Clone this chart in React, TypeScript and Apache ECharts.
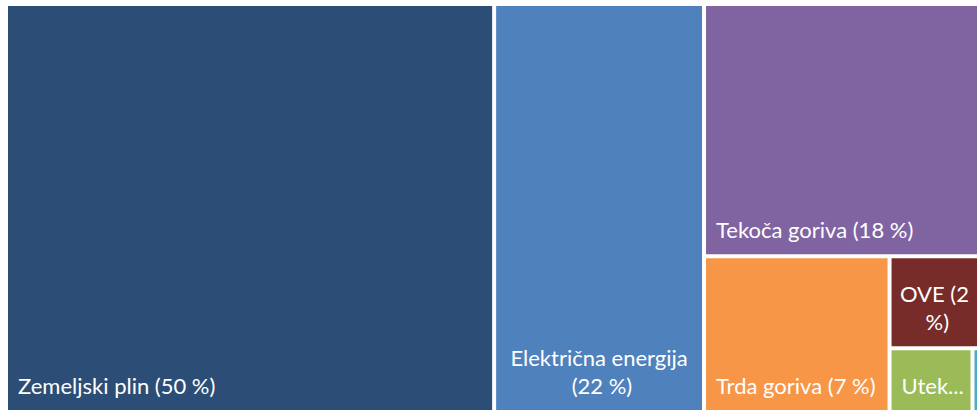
import React, { useEffect, useRef } from "react";
import * as echarts from "echarts";

// Category names and shares (%)
const categories = [
  "Zemeljski plin",
  "Električna energija",
  "Tekoča goriva",
  "Trda goriva",
  "OVE",
  "Utekočinjeni naftni plin",
  "Toplota",
];
const shares = [50, 21.5, 17.8, 7.25, 2.2, 1.33, 0.2];
const palette = ["#2C4D75", "#4F81BD", "#8064A2", "#F79646", "#772C2A", "#9BBB59", "#4BACC6"];

const centeredLabels = ["Električna energija", "OVE"];
const hiddenLabels = ["Toplota"];

export default function App() {
  const ref = useRef<HTMLDivElement>(null);

  useEffect(() => {
    if (!ref.current) return;
    const chart = echarts.init(ref.current, undefined, { renderer: "svg" });

    const data = categories.map((name, i) => {
      const centered = centeredLabels.includes(name);
      const hidden = hiddenLabels.includes(name);
      let label: any;
      if (hidden) label = { show: false };
      else if (name === "OVE")
        label = { position: "insideBottom", overflow: "break", padding: [0, 5, 11, 5] };
      else if (centered)
        label = { position: "insideBottom", overflow: "break", padding: [0, 8, 11, 8] };
      else label = { position: "insideBottomLeft", overflow: "truncate", padding: [0, 2, 11, 10] };
      return {
        name,
        value: shares[i],
        itemStyle: { color: palette[i] },
        label,
      };
    });

    chart.setOption({
      animation: false,
      series: [
        {
          type: "treemap",
          left: 8,
          top: 6,
          width: 975,
          height: 404,
          roam: false,
          nodeClick: false,
          squareRatio: 1,
          sort: "desc",
          breadcrumb: { show: false },
          itemStyle: { borderWidth: 0, gapWidth: 4, borderColor: "#fff" },
          levels: [{ itemStyle: { borderWidth: 0, gapWidth: 4, borderColor: "#fff" } }],
          label: {
            show: true,
            position: "insideBottomLeft",
            distance: 0,
            color: "#fff",
            fontFamily: "Lato",
            fontSize: 22,
            lineHeight: 28,
            overflow: "truncate",
            ellipsis: "...",
            formatter: (p: any) => `${p.name} (${Math.round(p.value)} %)`,
          },
          emphasis: { disabled: true },
          data,
        },
      ],
    });

    return () => chart.dispose();
  }, []);

  return (
    <div
      ref={ref}
      style={{ position: "absolute", left: 0, top: 0, width: 977, height: 410 }}
    />
  );
}
